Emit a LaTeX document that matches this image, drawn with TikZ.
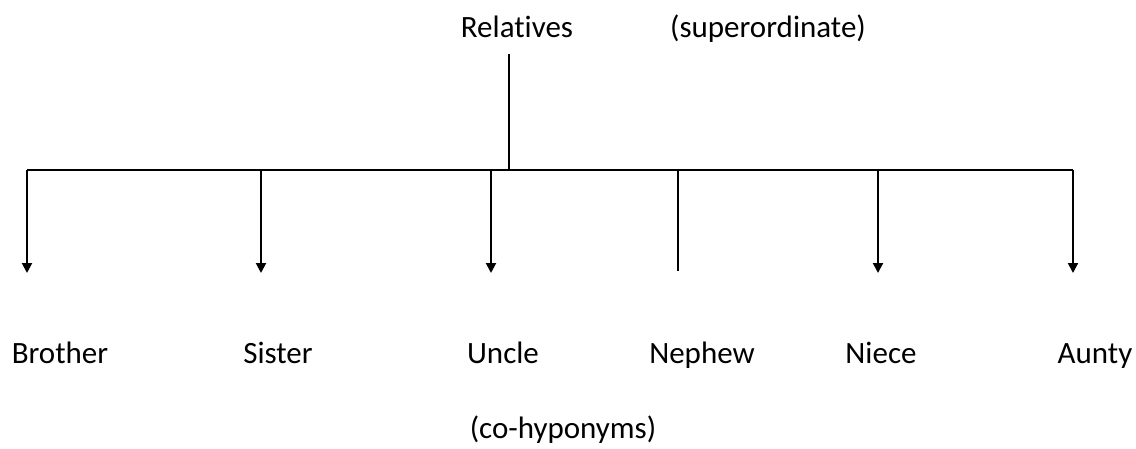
\documentclass[tikz,border=0pt]{standalone}
\usepackage{fontspec}
\setmainfont{Carlito}[RawFeature=-liga]
\usetikzlibrary{arrows.meta}
\begin{document}
\begin{tikzpicture}[x=1pt,y=-1pt,
  word/.style={anchor=base,inner sep=0pt,font=\fontsize{31}{36}\selectfont},
  link/.style={line width=2pt},
  drop/.style={link,-{Triangle[width=10pt,length=10pt]}}]
\useasboundingbox (0,0) rectangle (1136,448);

% labels
\node[word] (rel) at (517,37) {Relatives};
\node[word] (sup) at (768,37) {(superordinate)};
\node[word] (bro) at (60,363) {Brother};
\node[word] (sis) at (278,363) {Sister};
\node[word] (unc) at (503,363) {Uncle};
\node[word] (nep) at (702,363) {Nephew};
\node[word] (nie) at (881,363) {Niece};
\node[word] (aun) at (1095,363) {Aunty};
\node[word] (coh) at (563,438) {(co-hyponyms)};

% stem and bar
\coordinate (top) at (509,54);
\coordinate (hub) at (509,170);
\coordinate (barL) at (27,170);
\coordinate (barR) at (1073,170);
\draw[link] (top) -- (hub);
\draw[link] (barL) -- (barR);

% branch points and their ends
\foreach \n/\x in {bro/27,sis/261,unc/491,nep/678,nie/878,aun/1073}{
  \coordinate (\n-top) at (\x,170);
  \coordinate (\n-end) at (\x,273);
}
\draw[drop] (bro-top) -- (bro-end);
\draw[drop] (sis-top) -- (sis-end);
\draw[drop] (unc-top) -- (unc-end);
\draw[link] (nep-top) -- ([yshift=2pt]nep-end);
\draw[drop] (nie-top) -- (nie-end);
\draw[drop] (aun-top) -- (aun-end);
\end{tikzpicture}
\end{document}
